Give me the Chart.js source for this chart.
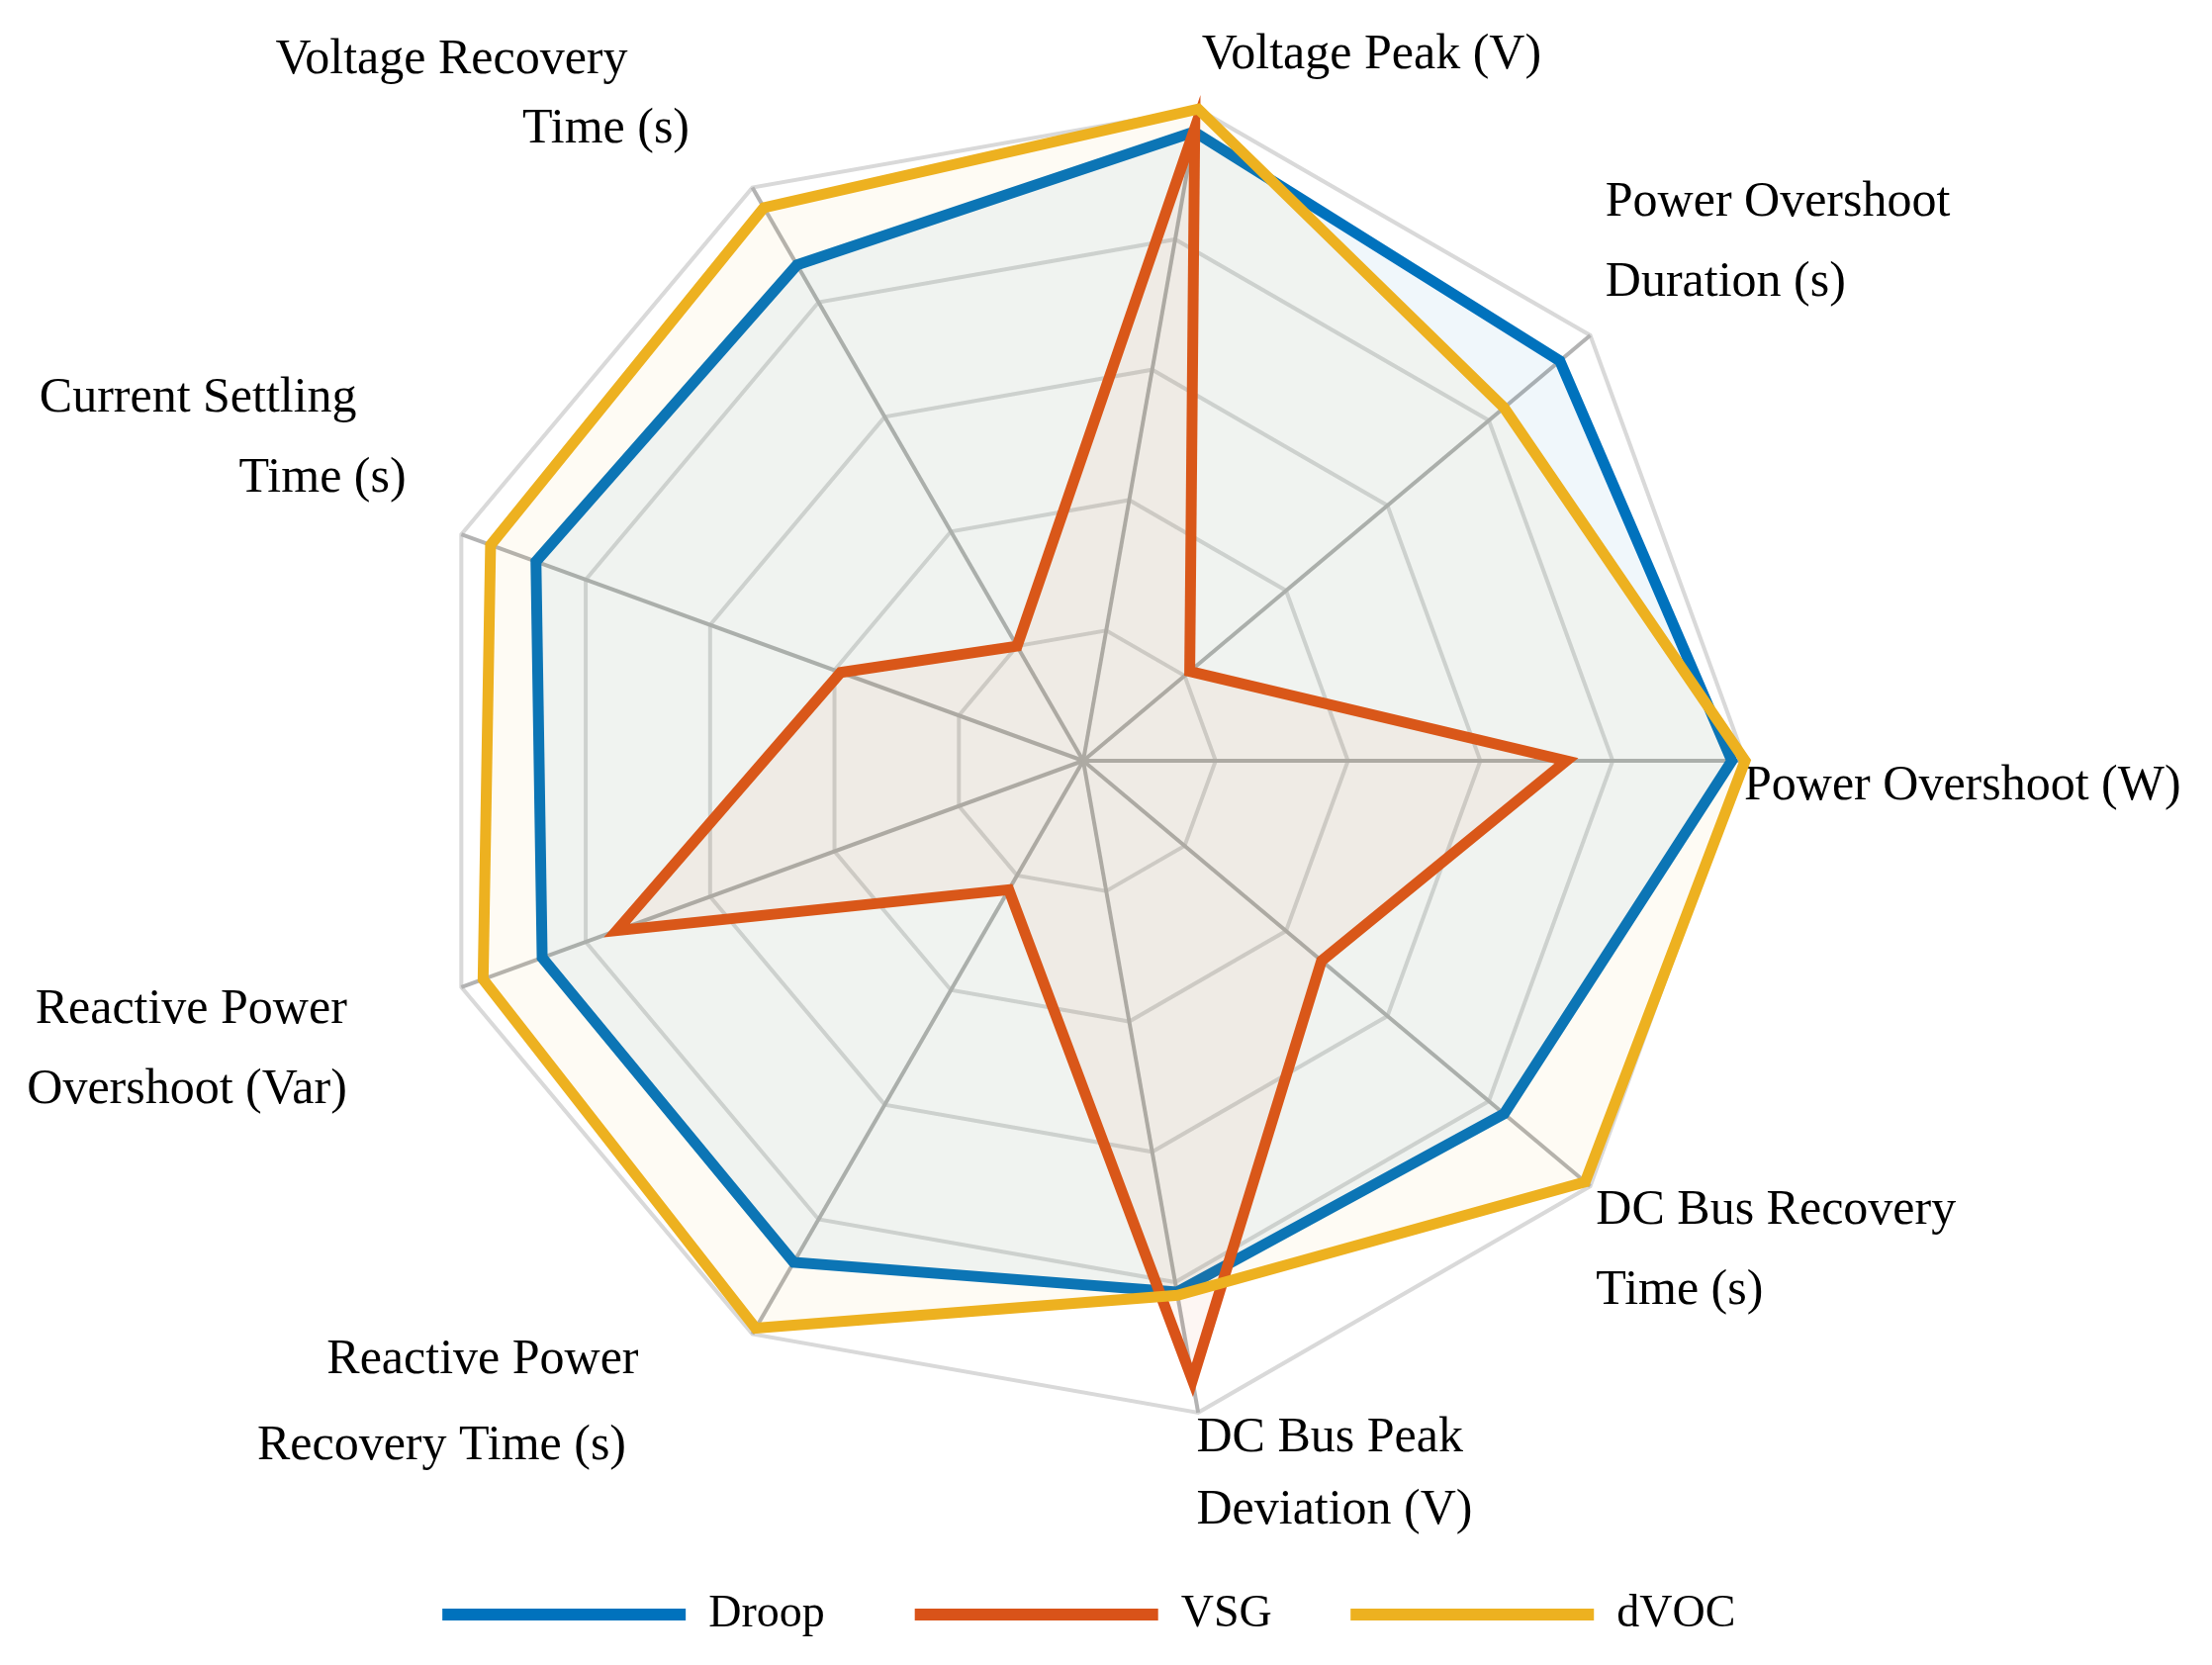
<!DOCTYPE html>
<html>
<head>
<meta charset="utf-8">
<title>Droop / VSG / dVOC radar</title>
<script src="https://cdn.jsdelivr.net/npm/chart.js@4.4.1/dist/chart.umd.min.js"></script>
<style>
  html, body { margin: 0; padding: 0; background: #ffffff; }
  canvas { display: block; }
</style>
</head>
<body>
<canvas id="radarChart" width="2236" height="1683"></canvas>
<script>
// axes in clockwise order, starting with the right-hand one
const metrics = [
  ["Power Overshoot (W)"],
  ["DC Bus Recovery", "Time (s)"],
  ["DC Bus Peak", "Deviation (V)"],
  ["Reactive Power", "Recovery Time (s)"],
  ["Reactive Power", "Overshoot (Var)"],
  ["Current Settling", "Time (s)"],
  ["Voltage Recovery", "Time (s)"],
  ["Voltage Peak (V)"],
  ["Power Overshoot", "Duration (s)"]
];

const droop = [0.98, 0.83, 0.815, 0.875, 0.87, 0.88, 0.865, 0.965, 0.94];
const vsg   = [0.73, 0.47, 0.95, 0.225, 0.75, 0.39, 0.2, 0.97, 0.21];
const dvoc  = [1.0, 0.99, 0.82, 0.99, 0.965, 0.953, 0.965, 1.0, 0.83];

const seriesNames = ["Droop", "VSG", "dVOC"];

// labels are not placed exactly radially in the original: nudge them with
// spaces (leading on the right-hand side, trailing on the left-hand side)
const labelSpaces = [[0], [2, 2], [0, 0], [10, 11], [13, 13], [5, 1], [9, 4], [0], [0, 0]];
const labelPad = [-1, -25, -10, -20, -50, 46, 27, 20, 20];
const labelLineHeight = [1.03, 1.62, 1.45, 1.75, 1.62, 1.62, 1.4, 1.38, 1.62];
const leftAligned = [3, 4, 5, 6];
const legendTail = [6, 5, 3];

const serif = "'Liberation Serif', 'Times New Roman', serif";

const labels = metrics.map((lines, i) => {
  const out = lines.map((t, j) => {
    const gap = " ".repeat(labelSpaces[i][j]);
    return leftAligned.includes(i) ? t + gap : gap + t;
  });
  // the right-hand label sits a little below its axis
  return i === 0 ? [""].concat(out) : out;
});

const radarChart = new Chart(document.getElementById("radarChart"), {
  type: "radar",
  data: {
    labels: labels,
    datasets: [{
      label: seriesNames[0],
      data: droop,
      borderColor: "#0072BD",
      backgroundColor: "rgba(0, 114, 189, 0.06)",
      order: 3
    }, {
      label: seriesNames[1],
      data: vsg,
      borderColor: "#D95319",
      backgroundColor: "rgba(217, 83, 25, 0.05)",
      order: 2
    }, {
      label: seriesNames[2],
      data: dvoc,
      borderColor: "#EDB120",
      backgroundColor: "rgba(237, 177, 32, 0.05)",
      order: 1
    }]
  },
  options: {
    responsive: false,
    animation: false,
    layout: { padding: { top: 0, bottom: 18, left: 0, right: 0 } },
    elements: {
      line: { borderWidth: 11, tension: 0, fill: true, borderJoinStyle: "miter" },
      point: { radius: 0, hoverRadius: 0 }
    },
    plugins: {
      tooltip: { enabled: false },
      legend: {
        position: "bottom",
        labels: {
          boxWidth: 246,
          boxHeight: 12,
          padding: 22,
          color: "#000000",
          font: { family: serif, size: 46 },
          generateLabels: (chart) => chart.data.datasets.map((ds, i) => ({
            text: ds.label + " ".repeat(legendTail[i]),
            fillStyle: ds.borderColor,
            strokeStyle: ds.borderColor,
            lineWidth: 0,
            hidden: false,
            datasetIndex: i,
            fontColor: "#000000"
          }))
        }
      }
    },
    scales: {
      r: {
        startAngle: 90,
        min: 0,
        max: 1,
        ticks: { display: false, stepSize: 0.2 },
        grid: { circular: false, color: "#d9d9d9", lineWidth: 4 },
        angleLines: { color: "#b3b3b3", lineWidth: 4 },
        pointLabels: {
          color: "#000000",
          padding: (ctx) => labelPad[ctx.index],
          font: (ctx) => ({
            family: serif,
            size: 50,
            lineHeight: labelLineHeight[ctx.index]
          })
        }
      }
    }
  }
});
</script>
</body>
</html>
